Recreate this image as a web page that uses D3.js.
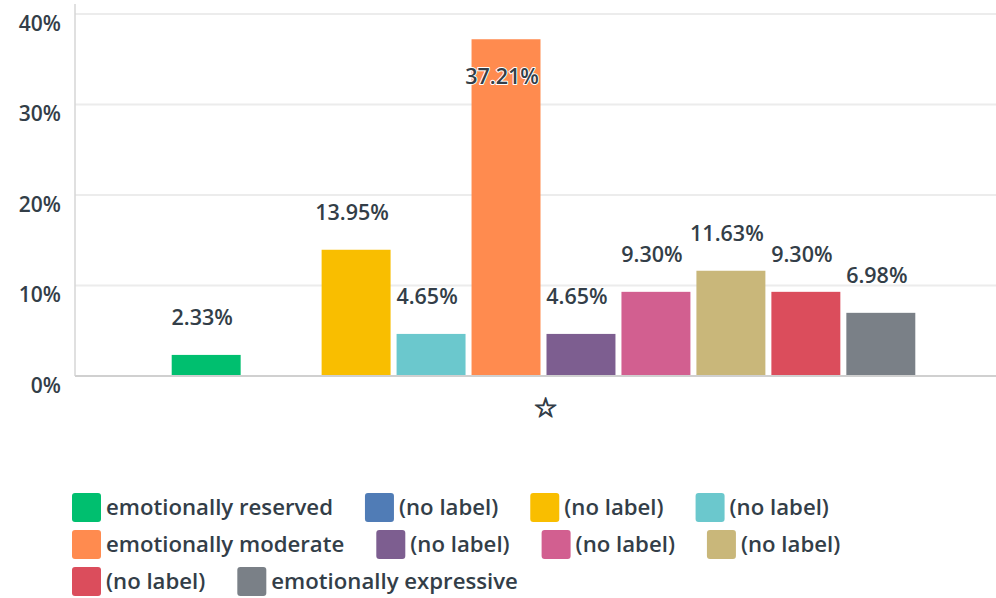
<!DOCTYPE html>
<html>
<head>
<meta charset="utf-8">
<script src="https://cdn.jsdelivr.net/npm/d3@7"></script>
<style>
  html, body { margin: 0; padding: 0; background: #fff; }
  svg { display: block; }
  text { font-family: "Open Sans", sans-serif; font-weight: 600; fill: #333e48; }
</style>
</head>
<body>
<svg id="chart" width="996" height="598"></svg>
<script>
// ---- data ----
const categories = ["☆"];
const seriesNames = [
  "emotionally reserved", "(no label)", "(no label)", "(no label)",
  "emotionally moderate", "(no label)", "(no label)", "(no label)",
  "(no label)", "emotionally expressive"
];
const seriesValues = [2.33, 0, 13.95, 4.65, 37.21, 4.65, 9.30, 11.63, 9.30, 6.98];
const seriesColors = [
  "#00bf6f", "#507cb6", "#f9be00", "#6bc8cd", "#ff8b4f",
  "#7d5e90", "#d25f90", "#c9b77a", "#db4d5c", "#7a8087"
];
const yTicks = [0, 10, 20, 30, 40];

// ---- layout ----
const svg = d3.select("#chart");
const W = 996, H = 598;
const plot = { left: 75, right: 1012, top: 14, bottom: 376 };
const ids = seriesValues.map((d, i) => i);

const y = d3.scaleLinear().domain([0, 40]).range([plot.bottom, plot.top]);
const x0 = d3.scaleBand().domain(categories).range([plot.left, plot.right])
  .paddingInner(0.2).paddingOuter(0.1);
const x1 = d3.scaleBand().domain(ids).range([0, x0.bandwidth()])
  .paddingInner(0.08).paddingOuter(0.04);

// gridlines
svg.append("g").selectAll("line").data(yTicks.filter(t => t > 0)).join("line")
  .attr("x1", plot.left).attr("x2", W)
  .attr("y1", d => y(d)).attr("y2", d => y(d))
  .attr("stroke", "#ececec").attr("stroke-width", 2);

// y axis labels
const yAxis = d3.axisLeft(y).tickValues(yTicks).tickFormat(d => d + "%").tickSize(0).tickPadding(0);
const gy = svg.append("g").attr("transform", `translate(61,0)`).call(yAxis);
gy.select(".domain").remove();
gy.selectAll("text")
  .attr("font-size", 21).attr("font-family", null).attr("dy", null)
  .attr("dominant-baseline", "central")
  .attr("transform", "translate(0,8)")
  .style("font-family", '"Open Sans", sans-serif').style("font-weight", 600).style("fill", "#333e48");

// vertical axis line
svg.append("line").attr("x1", plot.left).attr("x2", plot.left)
  .attr("y1", 4).attr("y2", plot.bottom)
  .attr("stroke", "#d6d6d6").attr("stroke-width", 1.5);

// bars
const g = svg.append("g");
categories.forEach(cat => {
  const gc = g.append("g").attr("transform", `translate(${x0(cat)},0)`);
  gc.selectAll("rect").data(ids).join("rect")
    .attr("x", i => x1(i))
    .attr("width", x1.bandwidth())
    .attr("y", i => y(seriesValues[i]))
    .attr("height", i => y(0) - y(seriesValues[i]))
    .attr("fill", i => seriesColors[i]);

  gc.selectAll("text.val").data(ids.filter(i => seriesValues[i] > 0)).join("text")
    .attr("class", "val")
    .attr("x", i => x1(i) + x1.bandwidth() / 2 - 4)
    .attr("y", i => {
      const top = y(seriesValues[i]);
      return top - 38 < 30 ? top + 36 : top - 38;
    })
    .attr("text-anchor", "middle")
    .attr("dominant-baseline", "central")
    .attr("font-size", 21.5)
    .attr("stroke", "#fff").attr("stroke-width", 2)
    .attr("stroke-linejoin", "round").attr("paint-order", "stroke")
    .text(i => seriesValues[i].toFixed(2) + "%");

  // category label
  svg.append("text")
    .attr("x", x0(cat) + x0.bandwidth() / 2 + 2)
    .attr("y", 407)
    .attr("text-anchor", "middle").attr("dominant-baseline", "central")
    .attr("font-size", 27)
    .attr("stroke", "#333e48").attr("stroke-width", 1.1).attr("stroke-linejoin", "round")
    .style("font-family", '"DejaVu Sans", sans-serif').style("font-weight", 400)
    .text(cat);
});

// baseline
svg.append("line").attr("x1", plot.left).attr("x2", W)
  .attr("y1", plot.bottom).attr("y2", plot.bottom)
  .attr("stroke", "#d0d0d0").attr("stroke-width", 2);

// legend (flow layout)
const legend = svg.append("g");
const sw = 29, rowH = 37, startX = 72, maxX = 990;
let cx = startX, row = 0;
ids.forEach(i => {
  const item = legend.append("g");
  const t = item.append("text")
    .attr("x", sw + 5).attr("y", sw / 2 - 1)
    .attr("dominant-baseline", "central")
    .attr("font-size", 22.2)
    .text(seriesNames[i]);
  const w = sw + 5 + t.node().getComputedTextLength();
  if (cx > startX && cx + w > maxX) { cx = startX; row++; }
  item.attr("transform", `translate(${cx},${493 + row * rowH})`);
  item.insert("rect", "text").attr("width", sw).attr("height", sw)
    .attr("rx", 3).attr("fill", seriesColors[i]);
  cx += w + 32;
});
</script>
</body>
</html>
